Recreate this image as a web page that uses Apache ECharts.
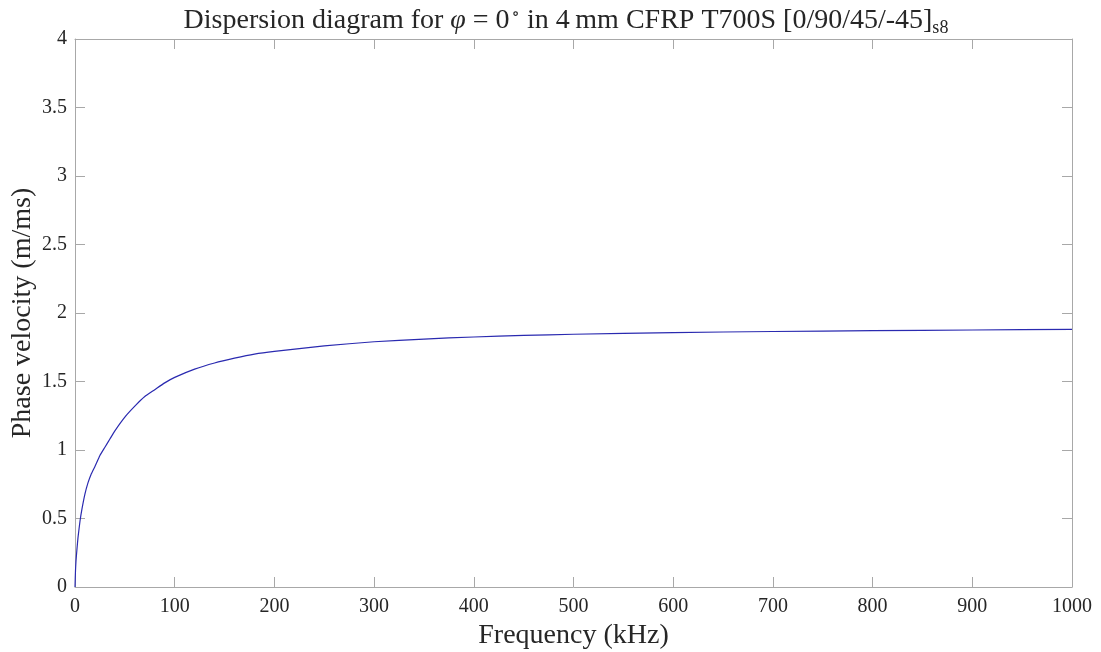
<!DOCTYPE html>
<html>
<head>
<meta charset="utf-8">
<script src="https://cdn.jsdelivr.net/npm/echarts@6/dist/echarts.min.js"></script>
<style>html,body{margin:0;padding:0;background:#fff}#c{width:1101px;height:652px}</style>
</head>
<body>
<div id="c"></div>
<script>
const frequency = [0, 0.5, 1, 2, 3, 5, 7, 10, 13, 16, 20, 25, 30, 35, 40, 50, 60, 70, 80, 90, 100, 120, 140, 160, 180, 200, 250, 300, 350, 400, 450, 500, 600, 700, 800, 900, 1000];
const phaseVelocity = [0, 0.12, 0.19, 0.28, 0.36, 0.48, 0.57, 0.68, 0.76, 0.82, 0.88, 0.96, 1.02, 1.08, 1.14, 1.24, 1.32, 1.39, 1.44, 1.49, 1.53, 1.59, 1.635, 1.67, 1.70, 1.72, 1.76, 1.79, 1.81, 1.825, 1.836, 1.845, 1.857, 1.865, 1.871, 1.876, 1.881];
const yTicks = [0, 0.5, 1, 1.5, 2, 2.5, 3, 3.5, 4];
const xTicks = [0, 100, 200, 300, 400, 500, 600, 700, 800, 900, 1000];

const FONT = '"Liberation Serif", "DejaVu Serif", serif';
const AX = '#a8a8a8';
const TXT = '#262626';
const chart = echarts.init(document.getElementById('c'), null, {renderer: 'canvas'});
const pts = frequency.map((f, i) => [f, phaseVelocity[i]]);
const axisCommon = {
  axisLine: {show: true, onZero: false, lineStyle: {color: AX, width: 1}},
  axisTick: {show: true, inside: true, length: 10, lineStyle: {color: AX}},
  splitLine: {show: false}
};
chart.setOption({
  animation: false,
  backgroundColor: '#fff',
  title: {
    text: 'Dispersion diagram for {i|φ} = 0{deg|∘} in 4\u2009mm CFRP T700S [0/90/45/-45]{sub|s8}',
    left: 561, top: 0, textAlign: 'center',
    textStyle: {
      fontFamily: FONT, fontSize: 28, fontWeight: 'normal', color: TXT,
      rich: {
        i: {fontFamily: FONT, fontSize: 28, fontStyle: 'italic', color: TXT},
        deg: {fontFamily: FONT, fontSize: 17, color: TXT, padding: [0, 0, 12, 2]},
        sub: {fontFamily: FONT, fontSize: 18, color: TXT, padding: [14, 0, 0, 0]}
      }
    }
  },
  grid: {left: 75, right: 29, top: 39, bottom: 65, containLabel: false, outerBoundsMode: 'none'},
  xAxis: [
    Object.assign({
      type: 'value', min: 0, max: 1000, interval: 100, position: 'bottom',
      name: 'Frequency (kHz)', nameLocation: 'middle', nameGap: 33,
      nameTextStyle: {fontFamily: FONT, fontSize: 28, color: TXT},
      axisLabel: {fontFamily: FONT, fontSize: 20, color: TXT, margin: 10,
        formatter: v => xTicks.includes(v) ? String(v) : ''}
    }, axisCommon),
    Object.assign({
      type: 'value', min: 0, max: 1000, interval: 100, position: 'top',
      axisLabel: {show: false}
    }, axisCommon)
  ],
  yAxis: [
    Object.assign({
      type: 'value', min: 0, max: 4, interval: 0.5, position: 'left',
      name: 'Phase velocity (m/ms)', nameLocation: 'middle', nameGap: 38, nameMoveOverlap: false,
      nameTextStyle: {fontFamily: FONT, fontSize: 28, color: TXT},
      axisLabel: {fontFamily: FONT, fontSize: 20, color: TXT, margin: 8,
        formatter: v => yTicks.includes(v) ? String(v) : ''}
    }, axisCommon),
    Object.assign({
      type: 'value', min: 0, max: 4, interval: 0.5, position: 'right',
      axisLabel: {show: false}
    }, axisCommon)
  ],
  series: [{
    type: 'line', data: pts, smooth: 0.15, showSymbol: false,
    xAxisIndex: 0, yAxisIndex: 0,
    lineStyle: {color: '#2a2ab0', width: 1.2}
  }]
});
</script>
</body>
</html>
